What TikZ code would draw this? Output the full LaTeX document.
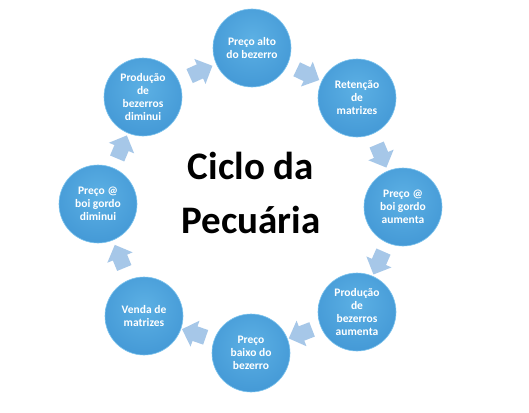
\documentclass[tikz,border=0pt]{standalone}
\usepackage{fontspec}
\setmainfont{Carlito}
\usetikzlibrary{shapes.arrows}
\definecolor{ballin}{RGB}{92,176,228}
\definecolor{ballmid}{RGB}{68,153,214}
\definecolor{ballout}{RGB}{48,130,196}
\definecolor{ballrim}{RGB}{125,196,238}
\definecolor{arrowblue}{RGB}{166,199,232}
\pgfdeclareradialshading{ballshade}{\pgfpoint{0bp}{6bp}}{%
  color(0bp)=(ballin); color(30bp)=(ballmid); color(44bp)=(ballout);
  color(47.5bp)=(ballrim); color(50bp)=(ballout); color(100bp)=(ballout)}
\tikzset{
  stage/.style={circle, minimum size=78pt, inner sep=0pt, shading=ballshade,
    draw=ballrim, line width=0.6pt, text=white, align=center,
    font=\fontsize{11.5}{13}\selectfont\bfseries},
  flow/.style={single arrow, fill=arrowblue, draw=none, text height=15pt,
    text depth=0pt, minimum height=25pt, single arrow head extend=6pt,
    inner sep=0pt, sloped, allow upside down, anchor=center},
  title/.style={align=center, font=\fontsize{39}{54}\selectfont\bfseries}
}
\begin{document}
\begin{tikzpicture}[x=1pt,y=-1pt]
\useasboundingbox (0,0) rectangle (529,412);
\fill[white] (0,0) rectangle (529,412);
\node[stage] (n1) at (252,48) {Preço alto\\do bezerro};
\node[stage] (n2) at (357,98) {Retenção\\de\\matrizes};
\node[stage] (n3) at (403,207) {Preço @\\boi gordo\\aumenta};
\node[stage] (n4) at (357,312) {Produção\\de\\bezerros\\aumenta};
\node[stage] (n5) at (251,353) {Preço\\baixo do\\bezerro};
\node[stage] (n6) at (144,316) {Venda de\\matrizes};
\node[stage] (n7) at (98,204) {Preço @\\boi gordo\\diminui};
\node[stage] (n8) at (143,97) {Produção\\de\\bezerros\\diminui};
\node[title] (t) at (251,193) {Ciclo da\\Pecuária};
\path (n8) -- node[flow] (a1) {} (n1);
\path (n1) -- node[flow] (a2) {} (n2);
\path (n2) -- node[flow] (a3) {} (n3);
\path (n3) -- node[flow] (a4) {} (n4);
\path (n4) -- node[flow] (a5) {} (n5);
\path (n5) -- node[flow] (a6) {} (n6);
\path (n6) -- node[flow] (a7) {} (n7);
\path (n7) -- node[flow] (a8) {} (n8);
\end{tikzpicture}
\end{document}
